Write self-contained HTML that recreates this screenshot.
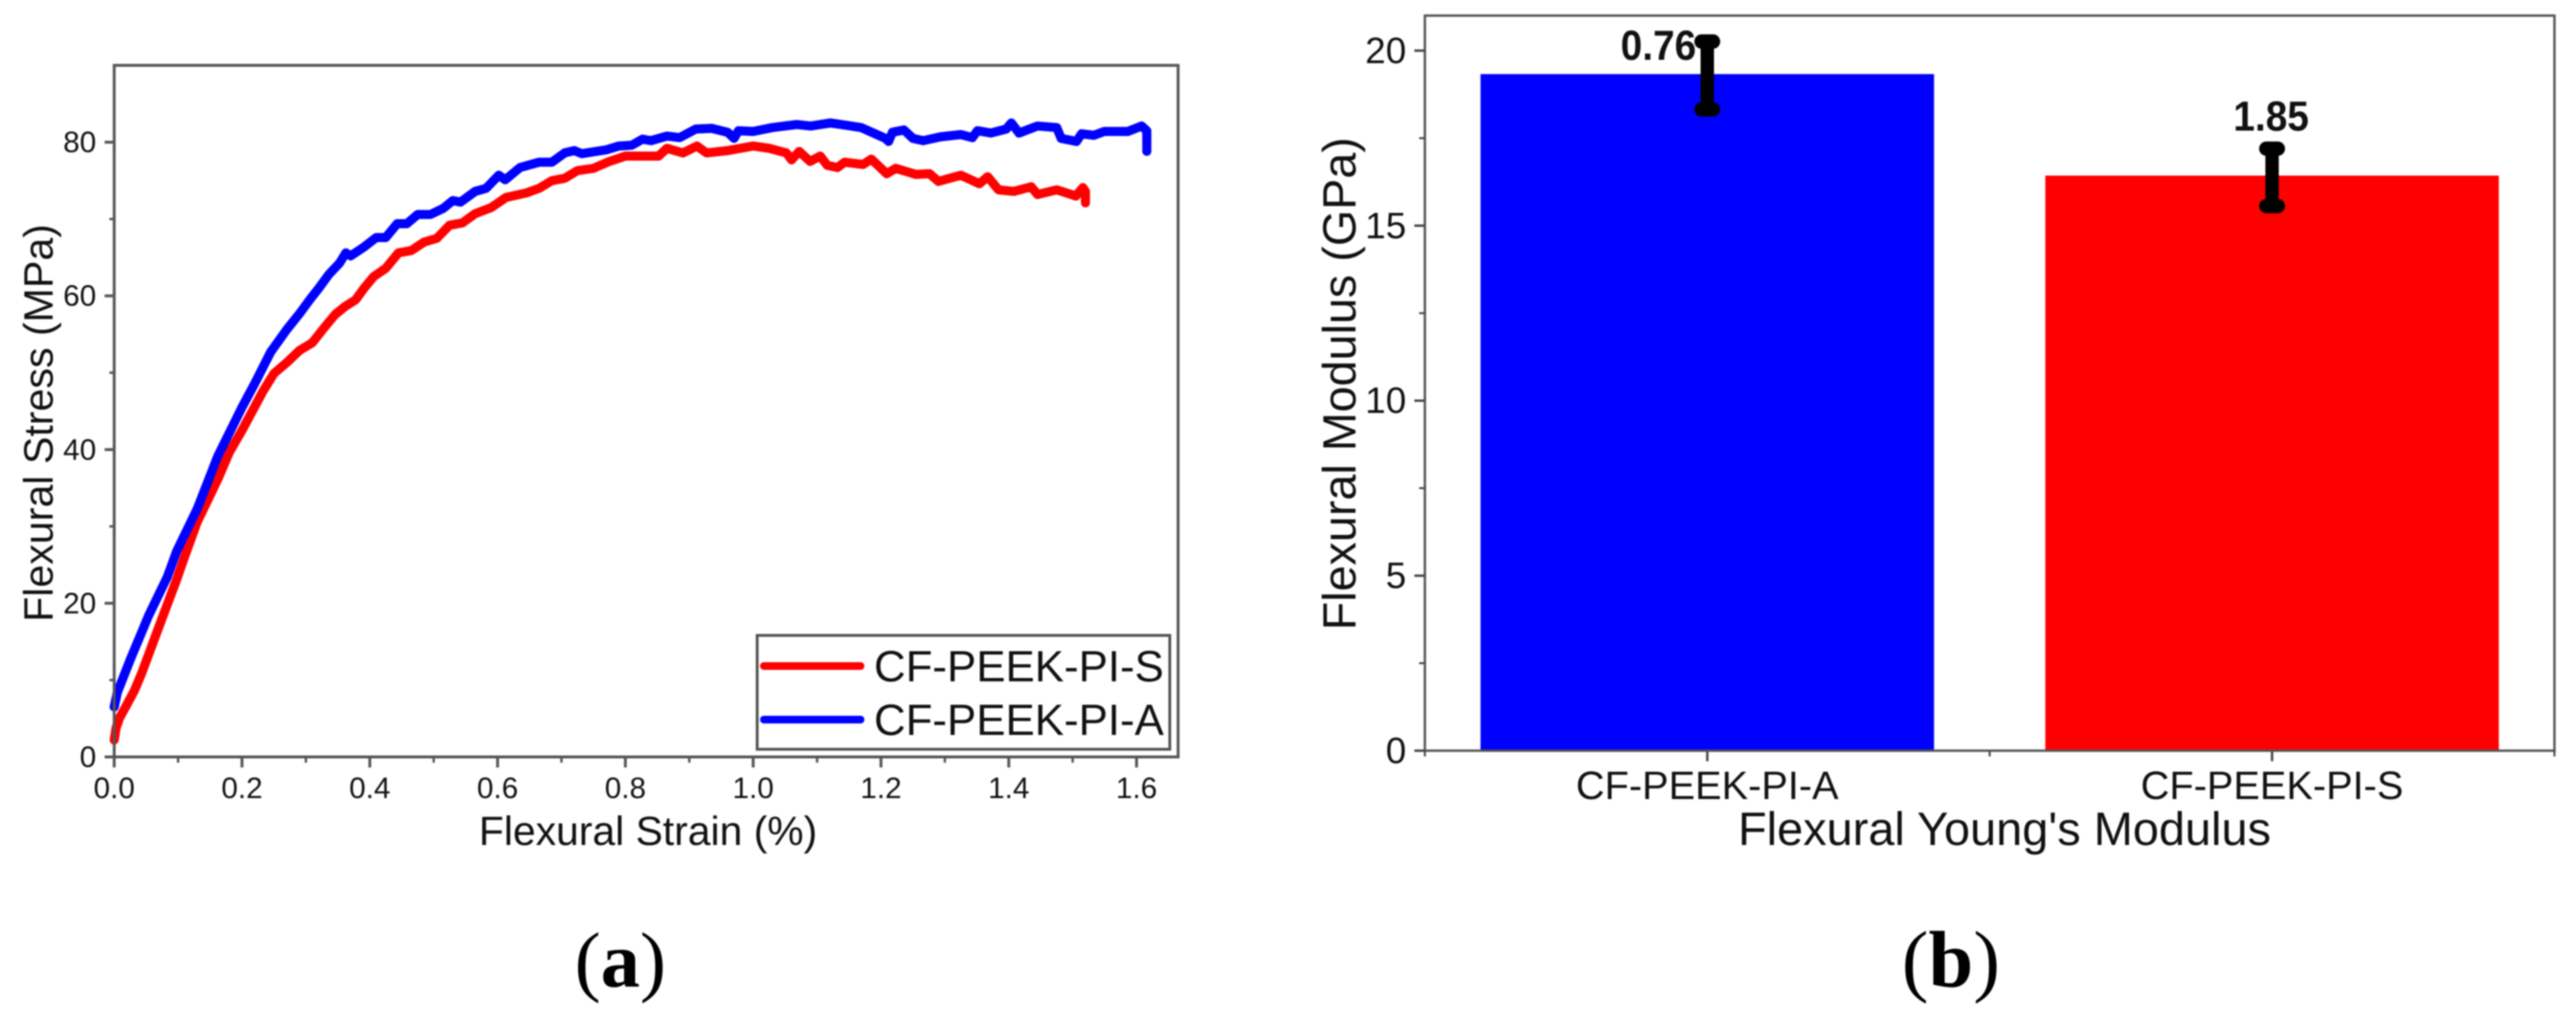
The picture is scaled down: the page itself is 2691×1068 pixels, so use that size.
<!DOCTYPE html>
<html lang="en">
<head>
<meta charset="utf-8">
<title>Flexural stress-strain and flexural modulus charts</title>
<style>
html,body{margin:0;padding:0;background:#fff;width:2691px;height:1068px;overflow:hidden}
svg{display:block;filter:blur(0.7px)}
text{font-family:"Liberation Sans",sans-serif;fill:#111;text-rendering:geometricPrecision}
.serif{font-family:"Liberation Serif",serif;fill:#000}
</style>
</head>
<body>
<svg id="figure" xmlns="http://www.w3.org/2000/svg" width="2691" height="1068" viewBox="0 0 2691 1068">
  <rect width="2691" height="1068" fill="#fff"/>

  <g id="panelA">
    <g id="seriesA"></g>
    <g id="axesA"></g>
    <text x="677" y="883" font-size="42.7" text-anchor="middle">Flexural Strain (%)</text>
    <text transform="translate(55 442) rotate(-90)" font-size="43" text-anchor="middle">Flexural Stress (MPa)</text>
    <g>
      <rect x="791" y="664" width="431" height="119" fill="#fff" stroke="#555" stroke-width="3"/>
      <line x1="798" y1="696" x2="899" y2="696" stroke="#f00" stroke-width="8" stroke-linecap="round"/>
      <text x="913" y="712" font-size="45.8">CF-PEEK-PI-S</text>
      <line x1="798" y1="752" x2="899" y2="752" stroke="#00f" stroke-width="8" stroke-linecap="round"/>
      <text x="913" y="768" font-size="45.8">CF-PEEK-PI-A</text>
    </g>
    <text class="serif" x="648" y="1031" font-size="82" text-anchor="middle">(<tspan font-weight="bold">a</tspan>)</text>
  </g>

  <g id="panelB">
    <g id="barsB"></g>
    <g id="axesB"></g>
    <g id="errorsB"></g>
    <text x="2094" y="883" font-size="49" text-anchor="middle">Flexural Young's Modulus</text>
    <text transform="translate(1416 401) rotate(-90)" font-size="48.8" text-anchor="middle">Flexural Modulus (GPa)</text>
    <text class="serif" x="2038" y="1031" font-size="84" text-anchor="middle">(<tspan font-weight="bold">b</tspan>)</text>
  </g>
</svg>

<script>
// Chart (a): stress-strain curves
const strainS = [0,0.003,0.0086,0.0172,0.0315,0.043,0.073,0.097,0.11,0.13,0.162,0.18,0.2,0.233,0.25,0.271,0.29,0.31,0.33,0.346,0.361,0.378,0.391,0.406,0.425,0.445,0.465,0.485,0.505,0.525,0.545,0.565,0.59,0.613,0.645,0.665,0.685,0.705,0.725,0.75,0.775,0.8,0.83,0.852,0.865,0.89,0.912,0.927,0.96,1.0,1.025,1.052,1.06,1.072,1.089,1.105,1.116,1.132,1.143,1.172,1.185,1.209,1.223,1.255,1.276,1.29,1.325,1.354,1.367,1.384,1.408,1.435,1.445,1.475,1.505,1.516,1.52,1.52];
const stressS = [2.2,3.8,5.1,6.4,8.6,10.9,17.6,22.9,26.0,30.6,36.1,39.6,42.5,47.6,49.9,51.4,52.9,53.9,56.0,57.6,58.6,59.5,61,62.5,63.6,65.6,65.9,67,67.5,69.2,69.5,70.7,71.5,72.8,73.4,74,75,75.3,76.3,76.6,77.5,78.2,78.2,78.2,79.2,78.6,79.5,78.6,78.9,79.5,79.2,78.6,77.7,78.8,77.5,78.2,77,76.7,77.4,77.1,77.8,75.9,76.6,75.8,75.9,74.9,75.7,74.6,75.5,73.8,73.6,74.2,73.2,73.8,73,74.1,73.6,72.1];
const strainA = [0,0.005,0.0258,0.054,0.083,0.098,0.13,0.162,0.2,0.22,0.245,0.27,0.291,0.306,0.321,0.336,0.353,0.3625,0.37,0.39,0.41,0.425,0.443,0.458,0.475,0.495,0.515,0.53,0.542,0.565,0.582,0.602,0.612,0.635,0.665,0.685,0.705,0.72,0.732,0.77,0.79,0.81,0.827,0.84,0.865,0.885,0.91,0.935,0.96,0.97,0.977,1.0,1.03,1.068,1.09,1.121,1.137,1.169,1.207,1.212,1.218,1.236,1.25,1.266,1.293,1.325,1.343,1.351,1.372,1.396,1.404,1.416,1.445,1.475,1.482,1.506,1.514,1.533,1.549,1.586,1.608,1.616,1.616];
const stressA = [6.5,8.4,12.8,18.4,23.4,26.8,32.3,39.1,45.5,48.6,52.7,55.6,57.8,59.5,61.1,62.8,64.3,65.6,65.2,66.3,67.6,67.6,69.4,69.4,70.6,70.6,71.4,72.4,72.2,73.6,74,75.7,75.1,76.7,77.4,77.4,78.6,78.9,78.5,79,79.5,79.6,80.4,80.2,80.8,80.6,81.7,81.8,81.3,80.5,81.5,81.4,81.9,82.3,82.1,82.5,82.3,81.9,80.5,80.1,81.3,81.6,80.5,80.2,80.7,81,80.6,81.5,81.2,81.7,82.5,81.2,82.1,81.9,80.5,80.1,81.1,80.9,81.4,81.4,82.1,81.5,78.8];
const xTicksA = ['0.0','0.2','0.4','0.6','0.8','1.0','1.2','1.4','1.6'];
const yTicksA = ['0','20','40','60','80'];
const xMinorA = [0.1,0.3,0.5,0.7,0.9,1.1,1.3,1.5];
const yMinorA = [10,30,50,70];

// Chart (b): flexural modulus bars
const categoriesB = ['CF-PEEK-PI-A','CF-PEEK-PI-S'];
const modulusB = [19.33,16.43];
const errorUpB = [0.93,0.77];
const errorDownB = [1.01,0.87];
const printedB = ['0.76','1.85'];
const barColorsB = ['#0000ff','#ff0000'];
const yTicksB = ['0','5','10','15','20'];
const yMinorB = [2.5,7.5,12.5,17.5];

const NS = 'http://www.w3.org/2000/svg';
function make(tag, parent, props, content) {
  const el = document.createElementNS(NS, tag);
  for (const k in props) el.setAttribute(k, props[k]);
  if (content !== undefined) el.textContent = content;
  parent.appendChild(el);
  return el;
}

// Scales for chart (a)
const xA = v => 119.3 + v * 667.5;
const yA = v => 791 - v * 8.03;
// Scales for chart (b)
const leftB = 1488.5, rightB = 2668.5;
const yB = v => 784.5 - v * 36.58;
const bandB = (rightB - leftB) / categoriesB.length;
const xB = i => leftB + bandB * (i + 0.5);

const seriesA = document.getElementById('seriesA');
const axesA = document.getElementById('axesA');
const barsB = document.getElementById('barsB');
const axesB = document.getElementById('axesB');
const errorsB = document.getElementById('errorsB');

function curvePoints(xs, ys) {
  return xs.map((v, i) => xA(v).toFixed(1) + ',' + yA(ys[i]).toFixed(1)).join(' ');
}

const curveS = make('polyline', seriesA, {points: curvePoints(strainS, stressS), fill: 'none', stroke: '#f00', 'stroke-width': 9.5, 'stroke-linejoin': 'round', 'stroke-linecap': 'round'});


const curveA = make('polyline', seriesA, {points: curvePoints(strainA, stressA), fill: 'none', stroke: '#00f', 'stroke-width': 9.5, 'stroke-linejoin': 'round', 'stroke-linecap': 'round'});



// Frame (a)
const frameA = make('rect', axesA, {x: xA(0), y: yA(90), width: 1230.7 - xA(0), height: yA(0) - yA(90), fill: 'none', stroke: '#555', 'stroke-width': 3});



xTicksA.forEach(label => {
  const v = parseFloat(label);
  const tick = make('line', axesA, {x1: xA(v), x2: xA(v), y1: yA(0), y2: yA(0) + 11, stroke: '#555', 'stroke-width': 3});
  
  
  const text = make('text', axesA, {x: xA(v), y: 834, 'font-size': 31, 'text-anchor': 'middle'}, label);
  
  
});
xMinorA.forEach(v => {
  const tick = make('line', axesA, {x1: xA(v), x2: xA(v), y1: yA(0), y2: yA(0) + 6, stroke: '#555', 'stroke-width': 2.5});
  
  
});
yTicksA.forEach(label => {
  const v = parseFloat(label);
  const tick = make('line', axesA, {x1: xA(0) - 10, x2: xA(0), y1: yA(v), y2: yA(v), stroke: '#555', 'stroke-width': 3});
  
  
  const text = make('text', axesA, {x: 100.5, y: yA(v) + 10.5, 'font-size': 31, 'text-anchor': 'end'}, label);
  
  
});
yMinorA.forEach(v => {
  const tick = make('line', axesA, {x1: xA(0) - 5, x2: xA(0), y1: yA(v), y2: yA(v), stroke: '#555', 'stroke-width': 2.5});
  
  
});

// Bars (b)
const barFraction = 0.803;
categoriesB.forEach((cat, i) => {
  const w = bandB * barFraction;
  const bar = make('rect', barsB, {x: xB(i) - w / 2, y: yB(modulusB[i]), width: w, height: yB(0) - yB(modulusB[i]), fill: barColorsB[i]});
  
  
  const tick = make('line', axesB, {x1: xB(i), x2: xB(i), y1: yB(0), y2: yB(0) + 11, stroke: '#444', 'stroke-width': 2.5});
  
  
  const text = make('text', axesB, {x: xB(i), y: 835, 'font-size': 41.5, 'text-anchor': 'middle'}, cat);
  
  

  // Error bar
  const hi = yB(modulusB[i] + errorUpB[i]);
  const lo = yB(modulusB[i] - errorDownB[i]);
  const stem = make('line', errorsB, {x1: xB(i), x2: xB(i), y1: hi, y2: lo, stroke: '#000', 'stroke-width': 14});
  
  
  const capTop = make('line', errorsB, {x1: xB(i) - 6, x2: xB(i) + 6, y1: hi, y2: hi, stroke: '#000', 'stroke-width': 15, 'stroke-linecap': 'round'});
  
  
  const capBottom = make('line', errorsB, {x1: xB(i) - 6, x2: xB(i) + 6, y1: lo, y2: lo, stroke: '#000', 'stroke-width': 15, 'stroke-linecap': 'round'});
  
  
  const dx = i === 0 ? -51 : -1;
  const dy = i === 0 ? 19 : -19;
  const value = make('text', errorsB, {x: xB(i) + dx, y: hi + dy, 'font-size': 44, 'font-weight': 'bold', 'text-anchor': 'middle', textLength: 79, lengthAdjust: 'spacingAndGlyphs'}, printedB[i]);
  
  
});

// Frame (b)
const frameB = make('rect', axesB, {x: leftB, y: yB(21), width: rightB - leftB, height: yB(0) - yB(21), fill: 'none', stroke: '#555', 'stroke-width': 2.5});


const midTick = make('line', axesB, {x1: (leftB + rightB) / 2, x2: (leftB + rightB) / 2, y1: yB(0), y2: yB(0) + 6, stroke: '#444', 'stroke-width': 2});


const originTick = make('line', axesB, {x1: leftB, x2: leftB, y1: yB(0), y2: yB(0) + 6, stroke: '#444', 'stroke-width': 2});


const endTick = make('line', axesB, {x1: rightB, x2: rightB, y1: yB(0), y2: yB(0) + 6, stroke: '#444', 'stroke-width': 2});



yTicksB.forEach(label => {
  const v = parseFloat(label);
  const tick = make('line', axesB, {x1: leftB - 11, x2: leftB, y1: yB(v), y2: yB(v), stroke: '#444', 'stroke-width': 2.5});
  
  
  const text = make('text', axesB, {x: 1469, y: yB(v) + 13, 'font-size': 38.5, 'text-anchor': 'end'}, label);
  
  
});
yMinorB.forEach(v => {
  const tick = make('line', axesB, {x1: leftB - 6, x2: leftB, y1: yB(v), y2: yB(v), stroke: '#444', 'stroke-width': 2});
  
  
});
</script>
</body>
</html>
